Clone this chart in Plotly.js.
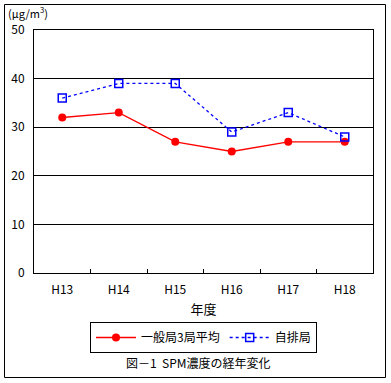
<!DOCTYPE html>
<html><head><meta charset="utf-8">
<script src="https://cdn.plot.ly/plotly-3.0.1.min.js"></script>
<style>body{margin:0;background:#fff}#c{width:391px;height:383px}</style>
</head><body><div id="c"></div>
<script>
const years = ["H13","H14","H15","H16","H17","H18"];
const generalAvg = [32, 33, 27, 25, 27, 27];
const roadside = [36, 39, 39, 29, 33, 28];
const seriesNames = ["一般局3局平均", "自排局"];
const yTicks = [0,10,20,30,40,50];

const F = '"Noto Sans CJK JP", "DejaVu Sans", sans-serif';
const L = 34, R = 373, T = 30, B = 273;
const W = R - L, H = B - T;
const px = x => (x - L) / W;
const py = y => (B - y) / H;

const traces = [
  {x: years, y: generalAvg, name: seriesNames[0], type: 'scatter', mode: 'lines+markers',
   line: {color: '#ff0000', width: 1.3}, marker: {symbol: 'circle', size: 8, color: '#ff0000'}},
  {x: years, y: roadside, name: seriesNames[1], type: 'scatter', mode: 'lines+markers',
   line: {color: '#0000ff', width: 1.3, dash: 'dot'},
   marker: {symbol: 'square-open', size: 8, color: '#0000ff', line: {width: 1.5, color: '#0000ff'}}}
];

const layout = {
  width: 391, height: 383,
  margin: {l: L, r: 391 - R, t: T, b: 383 - B},
  paper_bgcolor: '#fff', plot_bgcolor: '#fff',
  font: {family: F, size: 12, color: '#000'},
  showlegend: true,
  legend: {orientation: 'h', x: 0.5, xanchor: 'center', xref: 'paper',
    y: py(322), yanchor: 'top', bordercolor: '#000', borderwidth: 1,
    font: {family: F, size: 12}, itemwidth: 40, bgcolor: '#fff', tracegroupgap: 0},
  xaxis: {type: 'category', range: [-0.5, 5.5], showline: true, linecolor: '#000', linewidth: 1,
    mirror: true, ticks: 'inside', ticklen: 4, tickcolor: '#000', tickson: 'boundaries',
    showgrid: false, zeroline: false, fixedrange: true, ticklabelstandoff: 6,
    tickfont: {family: F, size: 12},
    title: {text: '年度', font: {family: F, size: 13}, standoff: 8}},
  yaxis: {range: [0, 50], tickvals: yTicks, showline: true, linecolor: '#000', linewidth: 1,
    mirror: true, ticks: '', showgrid: true, gridcolor: '#000', gridwidth: 1, zeroline: false,
    tickfont: {family: F, size: 12}, ticklabelstandoff: 6, fixedrange: true},
  shapes: [
    {type: 'rect', xref: 'paper', yref: 'paper', x0: px(4.5), x1: px(385.5), y0: py(377.5), y1: py(4.5),
     line: {color: '#000', width: 1}, layer: 'below'}
  ],
  annotations: [
    {xref: 'paper', yref: 'paper', x: px(6), y: py(13), xanchor: 'left', yanchor: 'middle',
     text: '(μg/m<sup>3</sup>)', showarrow: false, font: {family: F, size: 11}},
    {xref: 'paper', yref: 'paper', x: px(198), y: py(362), xanchor: 'center', yanchor: 'middle',
     text: '図－1  SPM濃度の経年変化', showarrow: false, font: {family: F, size: 12}}
  ]
};
Plotly.newPlot('c', traces, layout, {staticPlot: true, displayModeBar: false});
</script></body></html>
